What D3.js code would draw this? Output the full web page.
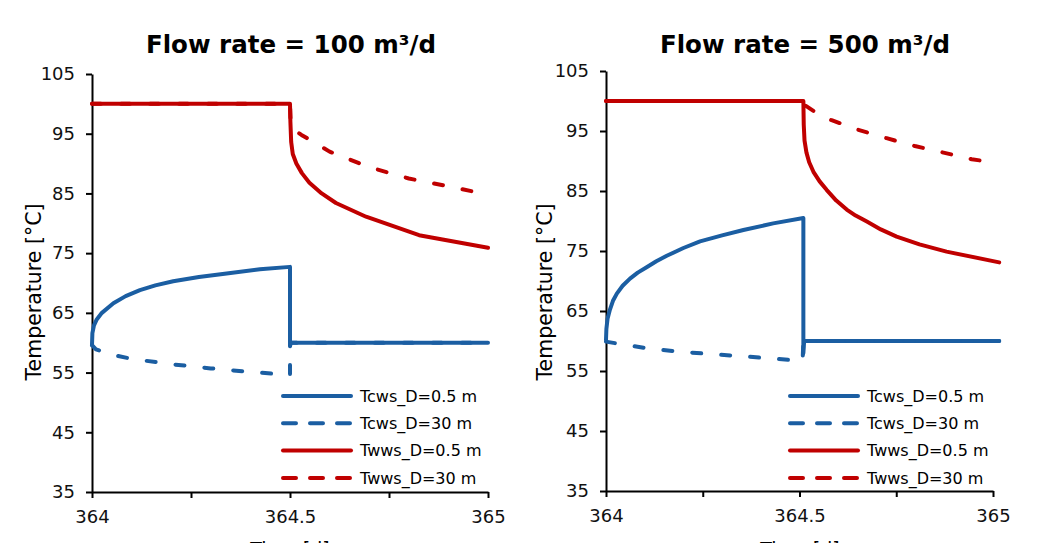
<!DOCTYPE html>
<html>
<head>
<meta charset="utf-8">
<script src="https://cdnjs.cloudflare.com/ajax/libs/d3/7.8.5/d3.min.js"></script>
<style>
  body { margin: 0; background: #fff; }
  svg { display: block; font-family: "DejaVu Sans", Verdana, sans-serif; }
  .tick text { font-family: "DejaVu Sans", Verdana, sans-serif; font-size: 18px; fill: #111; }
  .domain, .tick line { stroke: #000; stroke-width: 2px; }
</style>
</head>
<body>
<svg id="chart" width="1050" height="543"></svg>
<script>
// chart data [time in d, temperature in degC]
var panelTitles = ["Flow rate = 100 m\u00b3/d", "Flow rate = 500 m\u00b3/d"];
var seriesNames = ["Tcws_D=0.5 m", "Tcws_D=30 m", "Twws_D=0.5 m", "Twws_D=30 m"];
var yTicks = [35, 45, 55, 65, 75, 85, 95, 105];
var xTicks = [364, 364.25, 364.5, 364.75, 365];
var xLabels = [364, 364.5, 365];

// flow rate 100
var q100_cws05 = [[364, 59.6], [364.001, 61.6], [364.005, 62.9], [364.012, 63.9], [364.025, 65.0], [364.054, 66.6],
  [364.085, 67.8], [364.121, 68.8], [364.16, 69.6], [364.205, 70.3], [364.27, 71.0], [364.34, 71.6],
  [364.424, 72.3], [364.5, 72.7], [364.5, 59.4], [364.502, 60], [365, 60]];
var q100_cws30 = [[364, 59.6], [364.01, 58.9], [364.05, 58.0], [364.1, 57.3], [364.2, 56.4], [364.3, 55.7],
  [364.4, 55.1], [364.5, 54.6], [364.5, 60], [365, 60]];
var q100_wws05 = [[364, 100], [364.5, 100], [364.501, 97.0], [364.503, 93.6], [364.507, 91.6], [364.516, 90.0],
  [364.53, 88.4], [364.549, 86.8], [364.58, 85.0], [364.616, 83.4], [364.692, 81.1], [364.826, 78.0], [365, 75.9]];
var q100_wws30 = [[364, 100], [364.5, 100], [364.502, 96.0], [364.529, 94.8], [364.6, 92.0], [364.7, 89.4],
  [364.8, 87.5], [364.9, 86.2], [365, 84.8]];

// flow rate 500
var q500_cws05 = [[364, 60.2], [364.001, 62.0], [364.004, 63.7], [364.01, 65.2], [364.018, 66.7], [364.028, 67.9],
  [364.043, 69.2], [364.062, 70.4], [364.082, 71.4], [364.105, 72.3], [364.13, 73.3], [364.157, 74.2],
  [364.2, 75.5], [364.243, 76.6], [364.3, 77.6], [364.355, 78.5], [364.432, 79.6], [364.51, 80.5],
  [364.51, 58.0], [364.512, 60], [365.016, 60]];
var q500_cws30 = [[364, 59.9], [364.036, 59.5], [364.105, 58.8], [364.191, 58.2], [364.277, 57.8], [364.364, 57.4],
  [364.484, 56.8], [364.508, 56.7], [364.51, 60], [365.016, 60]];
var q500_wws05 = [[364, 100], [364.51, 100], [364.511, 96.0], [364.513, 93.4], [364.518, 91.4], [364.525, 89.8],
  [364.536, 88.2], [364.552, 86.6], [364.57, 85.2], [364.595, 83.4], [364.622, 81.9], [364.645, 80.9],
  [364.674, 79.9], [364.71, 78.6], [364.751, 77.4], [364.81, 76.1], [364.88, 74.9], [365.016, 73.1]];
var q500_wws30 = [[364, 100], [364.51, 100], [364.514, 99.3], [364.549, 97.8], [364.583, 96.8], [364.652, 95.2],
  [364.725, 93.8], [364.798, 92.5], [364.872, 91.4], [364.945, 90.3], [365.016, 89.6]];

var panelSeries = [
  [q100_cws05, q100_cws30, q100_wws05, q100_wws30],
  [q500_cws05, q500_cws30, q500_wws05, q500_wws30]
];

var blue = "#1b5ea2", red = "#c00000";
var seriesColor = [blue, blue, red, red];
var seriesDashed = [false, true, false, true];

// panel placement in pixels
var panels = [
  {x0: 92, x1: 488, y0: 492, y1: 74, titleX: 291, yLabelX: 34, legendX: 283, xLabelX: 290},
  {x0: 606, x1: 993, y0: 491, y1: 71, titleX: 805, yLabelX: 545, legendX: 790, xLabelX: 800}
];

var svg = d3.select("#chart");

panels.forEach(function(p, pi) {
  var x = d3.scaleLinear().domain([364, 365]).range([p.x0, p.x1]);
  var y = d3.scaleLinear().domain([35, 105]).range([p.y0, p.y1]);
  var g = svg.append("g");

  // title
  g.append("text")
    .attr("x", p.titleX).attr("y", 53)
    .attr("text-anchor", "middle")
    .style("font-size", "24.5px").style("font-weight", "bold")
    .text(panelTitles[pi]);

  // axes
  g.append("g")
    .attr("transform", "translate(" + p.x0 + ",0)")
    .call(d3.axisLeft(y).tickValues(yTicks).tickSize(6).tickSizeOuter(0).tickPadding(11));

  g.append("g")
    .attr("transform", "translate(0," + p.y0 + ")")
    .call(d3.axisBottom(x).tickValues(xTicks).tickSize(6).tickSizeOuter(0).tickPadding(12)
      .tickFormat(function(d) { return xLabels.indexOf(d) > -1 ? d3.format("")(d) : ""; }));

  // axis titles (the x title is clipped by the bottom edge, as in the original)
  g.append("text")
    .attr("transform", "translate(" + p.yLabelX + ",292) rotate(-90)")
    .attr("text-anchor", "middle").attr("dy", "0.35em")
    .style("font-size", "20.5px")
    .text("Temperature [\u00b0C]");

  g.append("text")
    .attr("x", p.xLabelX).attr("y", 556)
    .attr("text-anchor", "middle")
    .style("font-size", "19px")
    .text("Time [d]");

  // data lines
  var line = d3.line().x(function(d) { return x(d[0]); }).y(function(d) { return y(d[1]); });
  panelSeries[pi].forEach(function(s, si) {
    g.append("path")
      .datum(s)
      .attr("d", line)
      .attr("fill", "none")
      .attr("stroke", seriesColor[si])
      .attr("stroke-width", 4)
      .attr("stroke-linecap", "round")
      .attr("stroke-linejoin", "round")
      .attr("stroke-dasharray", seriesDashed[si] ? "9,20" : null);
  });

  // legend
  var legend = g.append("g").attr("transform", "translate(" + p.legendX + ",396)");
  seriesNames.forEach(function(name, si) {
    var row = legend.append("g").attr("transform", "translate(0," + si * 27.3 + ")");
    row.append("line")
      .attr("x1", 0).attr("x2", 68)
      .attr("stroke", seriesColor[si])
      .attr("stroke-width", 4)
      .attr("stroke-linecap", "round")
      .attr("stroke-dasharray", seriesDashed[si] ? "13,14" : null);
    row.append("text")
      .attr("x", 77).attr("dy", "0.35em")
      .style("font-size", "16px")
      .text(name);
  });
});
</script>
</body>
</html>
